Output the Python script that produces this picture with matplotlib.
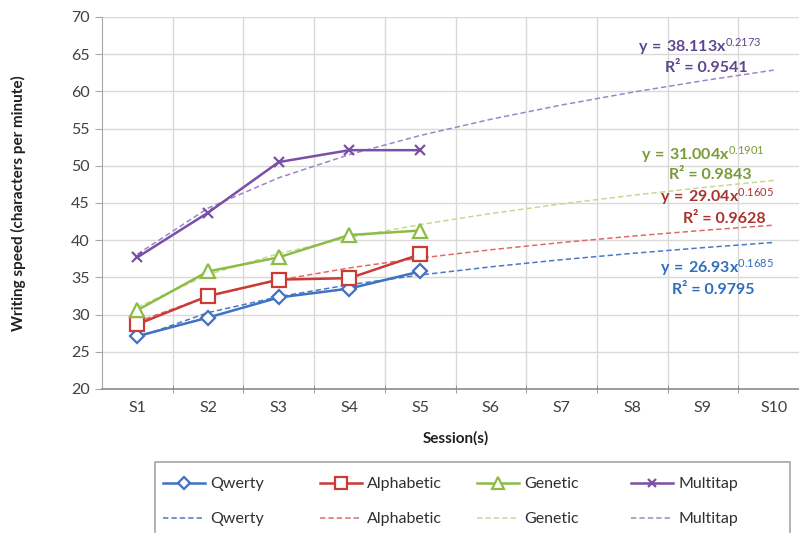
import numpy as np
import matplotlib
matplotlib.use("Agg")
import matplotlib.pyplot as plt
from matplotlib.patches import Rectangle

plt.rcParams['font.family'] = ['Lato', 'DejaVu Sans']
plt.rcParams['mathtext.fontset'] = 'custom'
plt.rcParams['mathtext.rm'] = 'Lato'
plt.rcParams['mathtext.bf'] = 'Lato:bold'
plt.rcParams['mathtext.it'] = 'Lato:italic'

# ---- data -------------------------------------------------------------
sessions = ["S1", "S2", "S3", "S4", "S5", "S6", "S7", "S8", "S9", "S10"]
measured = ["S1", "S2", "S3", "S4", "S5"]

qwerty = [27.1, 29.6, 32.3, 33.5, 35.8]
alphabetic = [28.7, 32.5, 34.7, 34.9, 38.1]
genetic = [30.6, 35.8, 37.7, 40.7, 41.3]
multitap = [37.7, 43.7, 50.5, 52.1, 52.1]

# power trendline coefficients y = a * x^b and their R^2
fit_a = [26.93, 29.04, 31.004, 38.113]
fit_b = [0.1685, 0.1605, 0.1901, 0.2173]
fit_r2 = ["0.9795", "0.9628", "0.9843", "0.9541"]
fit_a_text = ["26.93", "29.04", "31.004", "38.113"]
fit_b_text = ["0.1685", "0.1605", "0.1901", "0.2173"]

names = ["Qwerty", "Alphabetic", "Genetic", "Multitap"]
series = [qwerty, alphabetic, genetic, multitap]

# ---- styling ----------------------------------------------------------
colors = ["#3f72c0", "#cc3a35", "#8cbc45", "#7a4fa6"]
trend_colors = ["#4a78c6", "#e06a66", "#c4da94", "#9c86c6"]
text_colors = ["#2f6fba", "#a83430", "#7a9a38", "#5e4690"]
markers = ["D", "s", "^", "x"]
msizes = [7.5, 10, 10, 7]

fig = plt.figure(figsize=(7.99, 5.33), dpi=100)
ax = fig.add_axes([102 / 799, 1 - 389 / 533, 707 / 799, 372 / 533])

xs_all = np.arange(1, len(sessions) + 1)
xs = np.arange(1, len(measured) + 1)

solid_handles = []
dash_handles = []
for i, (name, vals) in enumerate(zip(names, series)):
    trend = fit_a[i] * xs_all.astype(float) ** fit_b[i]
    dh, = ax.plot(xs_all, trend, ls=(0, (3.5, 2)), lw=1.1,
                  color=trend_colors[i], zorder=2)
    sh, = ax.plot(xs, vals, color=colors[i], lw=1.8, marker=markers[i],
                  ms=msizes[i], mfc="white", mec=colors[i], mew=1.6,
                  zorder=3)
    solid_handles.append(sh)
    dash_handles.append(dh)

# axes limits and grid
ax.set_xlim(0.5, len(sessions) + 0.5)
ax.set_ylim(20, 70)
ax.set_yticks(np.arange(20, 71, 5))
ax.set_xticks(xs_all)
ax.set_xticklabels(sessions)
ax.set_xticks(np.arange(1.5, len(sessions) + 0.5, 1), minor=True)

ax.grid(True, which="major", axis="y", color="#d9d9d9", lw=1)
ax.grid(True, which="minor", axis="x", color="#d9d9d9", lw=1)
ax.set_axisbelow(True)

for s in ["top", "right"]:
    ax.spines[s].set_visible(False)
ax.spines["left"].set_color("#a6a6a6")
ax.spines["bottom"].set_color("#8c8c8c")
ax.spines["bottom"].set_linewidth(1.2)

ax.tick_params(axis="y", which="major", length=5, color="#a6a6a6",
               labelsize=11.5, labelcolor="#404040", pad=4)
ax.tick_params(axis="x", which="major", length=0, labelsize=11.5,
               labelcolor="#404040", pad=9)
ax.tick_params(axis="x", which="minor", length=6, direction="inout",
               color="#8c8c8c")

ax.set_ylabel("Writing speed (characters per minute)", fontsize=11,
              fontweight="bold", color="#202020")
ax.yaxis.set_label_coords(-0.107, 0.5)
ax.set_xlabel("Session(s)", fontsize=11, fontweight="bold", color="#202020")
ax.xaxis.set_label_coords(0.5, -0.113)

# trendline equations
eq_pos = [(9.2, 36.3), (9.2, 45.9), (9.0, 51.5), (8.95, 66.0)]
r2_pos = [(9.14, 33.3), (9.3, 42.8), (9.1, 48.8), (9.05, 63.2)]
for i in range(4):
    eq = r"$\mathbf{y\:=\:" + fit_a_text[i] + r"x}^{" + fit_b_text[i] + r"}$"
    ax.text(*eq_pos[i], eq, color=text_colors[i], fontsize=11.5,
            ha="center", va="center", zorder=4)
    ax.text(*r2_pos[i], "R² = " + fit_r2[i], color=text_colors[i],
            fontsize=11.5, fontweight="bold", ha="center", va="center",
            zorder=4)

# legend frame and four two-row legend columns
frame = Rectangle((155 / 799, -0.05), (790 - 155) / 799,
                  (533 - 462) / 533 + 0.05, transform=fig.transFigure,
                  facecolor="white", edgecolor="#a6a6a6", lw=1.2)
fig.patches.append(frame)
col_x = [152, 309, 466, 620]
for i in range(4):
    leg = fig.legend([solid_handles[i], dash_handles[i]], [names[i], names[i]],
                     loc="upper left",
                     bbox_to_anchor=(col_x[i] / 799, 1 - 466 / 533),
                     frameon=False, fontsize=11.5, handlelength=2.6,
                     handletextpad=0.35, labelspacing=1.3,
                     borderpad=0.2, labelcolor="#303030")
    for h in leg.legend_handles:
        if h.get_marker() not in (None, "None", ""):
            h.set_markersize(h.get_markersize() * 0.8)

fig.savefig("out.png", dpi=100)
